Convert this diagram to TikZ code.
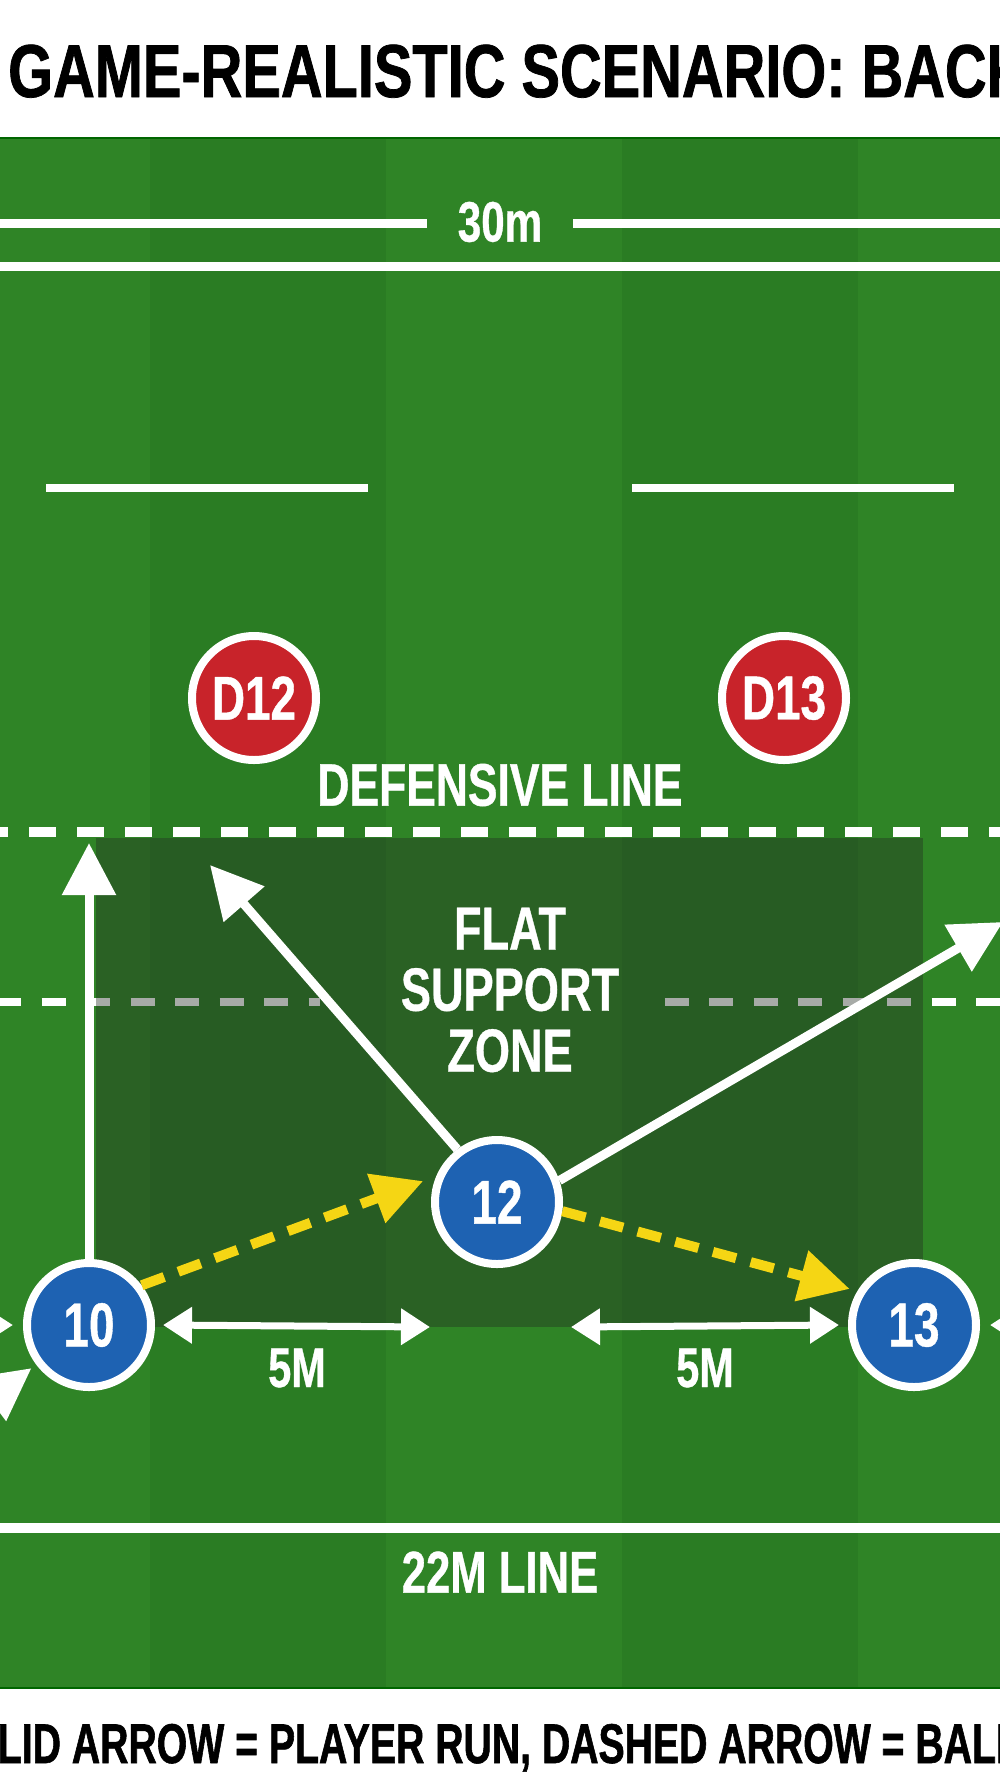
\documentclass[tikz,border=0pt]{standalone}
\usepackage{fontspec}
\usetikzlibrary{arrows.meta}
\newfontfamily\condfont{Liberation Sans}[FakeStretch=0.74, FakeBold=0.6]
\newfontfamily\headfont{Liberation Sans}[FakeStretch=0.77, FakeBold=1]
\newfontfamily\footfont{Liberation Sans}[FakeStretch=0.70, FakeBold=1]
\definecolor{grassA}{RGB}{47,132,38}
\definecolor{grassB}{RGB}{42,124,35}
\definecolor{zonegrey}{RGB}{35,45,35}
\definecolor{playerblue}{RGB}{30,98,178}
\definecolor{defred}{RGB}{200,35,42}
\definecolor{passyellow}{RGB}{245,214,20}
\tikzset{
  player/.style={circle, draw=white, line width=8pt, fill=playerblue, minimum size=124pt, inner sep=0pt,
    text=white, font=\condfont\bfseries\fontsize{62}{62}\selectfont},
  defender/.style={player, fill=defred},
  run/.style={draw=white, line width=9pt, -{Triangle[width=52pt,length=52pt]}},
  pass/.style={draw=passyellow, line width=10pt, dash pattern=on 24pt off 15pt, -{Triangle[width=50pt,length=50pt]}},
  gap/.style={draw=white, line width=7pt, {Triangle[width=35pt,length=29pt]}-{Triangle[width=35pt,length=29pt]}},
  lbl/.style={text=white, inner sep=0pt, font=\condfont\bfseries\fontsize{#1}{#1}\selectfont},
  fieldline/.style={draw=white, line width=9pt}
}
\begin{document}
\begin{tikzpicture}[x=1pt,y=-1pt]
\useasboundingbox (0,0) rectangle (1000,1792);
\fill[white] (0,0) rectangle (1000,1792);

% pitch
\fill[grassA] (0,138) rectangle (1000,1688);
\foreach \sx in {150,622}
  \fill[grassB] (\sx,138) rectangle ++(236,1550);
\draw[black!60!green, line width=1.5pt] (0,138) -- (1000,138) (0,1688) -- (1000,1688);

\node[anchor=base west, inner sep=0pt, font=\headfont\bfseries\fontsize{75}{75}\selectfont] (title) at (8,97) {GAME-REALISTIC SCENARIO: BACK};

% lines
\draw[fieldline] (0,223) -- (427,223) (573,223) -- (1000,223);
\node[lbl=57] (dist) at (500,222) {30m};
\draw[fieldline] (0,266) -- (1000,266);
\draw[fieldline, line width=8pt] (46,488) -- (368,488) (632,488) -- (954,488);
\draw[white, line width=10pt, dash pattern=on 27pt off 21pt] (-19,832) -- (1000,832);
\draw[white, line width=8pt, dash pattern=on 24pt off 20.5pt] (-3,1002) -- (320,1002) (664.5,1002) -- (1000,1002);
\draw[fieldline, line width=10pt] (0,1528) -- (1000,1528);

\fill[zonegrey, opacity=0.4] (96,838) rectangle (923,1327);% flat support zone

\node[defender] (d12) at (254,698) {D12};
\node[defender] (d13) at (784,698) {D13};
\node[lbl=60] (defline) at (500,785) {DEFENSIVE LINE};
\node[lbl=61, align=center] (zone) at (510,990) {FLAT\\SUPPORT\\ZONE};

\node[player] (p10) at (89,1325) {10};
\node[player] (p12) at (497,1202) {12};
\node[player] (p13) at (914,1325) {13};

\coordinate (run10) at (89,843);
\coordinate (run12a) at (210,865);
\coordinate (run12b) at (1003,922);
\coordinate (feedSW) at (-71,1445);
\coordinate (gapL) at (-60,1325);
\coordinate (gapR) at (1060,1325);
\coordinate (gap10) at (430,1327);
\coordinate (gap13) at (571,1327);

% runs
\draw[run] (p10) -- (run10);
\draw[run] (p12.127) -- (run12a);
\draw[run] (p12.19) -- (run12b);
\draw[run, shorten >=6pt] (feedSW) -- (p10);

% passes
\draw[pass, shorten >=14pt] (p10.37) -- (p12.157);
\draw[pass, shorten >=8pt] (p12.-8) -- (p13.149);

% spacing
\draw[gap] ([xshift=8pt]p10.east) -- (gap10);
\draw[gap] (gap13) -- ([xshift=-9pt]p13.west);
\draw[gap] (gapL) -- ([xshift=-10pt]p10.west);
\draw[gap] ([xshift=10pt]p13.east) -- (gapR);
\node[lbl=56] (space1) at (297,1368) {5M};
\node[lbl=56] (space2) at (705,1368) {5M};

\node[lbl=59] (line22) at (500,1572) {22M LINE};
\node[anchor=base west, inner sep=0pt, font=\footfont\bfseries\fontsize{56}{56}\selectfont] (legend) at (-59,1763) {SOLID ARROW = PLAYER RUN, DASHED ARROW = BALL};
\end{tikzpicture}
\end{document}
